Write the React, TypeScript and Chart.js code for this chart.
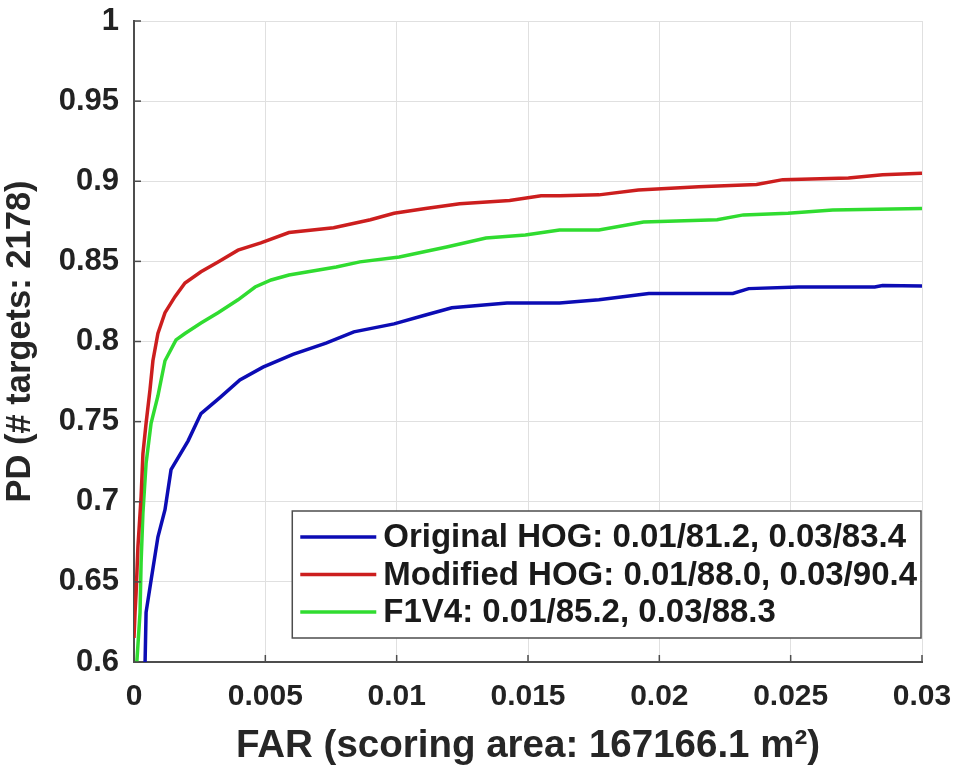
import React, { useEffect, useRef } from "react";
import { Chart, registerables } from "chart.js";

Chart.register(...registerables);

// ---- Data ----
const xTickValues = [0, 0.005, 0.01, 0.015, 0.02, 0.025, 0.03];
const yTickValues = [0.6, 0.65, 0.7, 0.75, 0.8, 0.85, 0.9, 0.95, 1];

const xAxisTitle = "FAR (scoring area: 167166.1 m\u00B2)";
const yAxisTitle = "PD (# targets: 2178)";

const seriesLabels = [
  "Original HOG: 0.01/81.2, 0.03/83.4",
  "Modified HOG: 0.01/88.0, 0.03/90.4",
  "F1V4: 0.01/85.2, 0.03/88.3",
];
const seriesColors = ["#0c0cb4", "#cc1e1e", "#30dc30"];

const originalFar = [
  0.00042, 0.00046, 0.00065, 0.00091, 0.00118, 0.00141, 0.00206, 0.00255, 0.00327,
  0.00403, 0.00491, 0.00605, 0.00731, 0.00837, 0.0099, 0.0111, 0.0121, 0.0142,
  0.0162, 0.0177, 0.0196, 0.0228, 0.0234, 0.0253, 0.0282, 0.0285, 0.03,
];
const originalPd = [
  0.598, 0.631, 0.651, 0.678, 0.695, 0.72, 0.738, 0.755, 0.765,
  0.776, 0.784, 0.792, 0.799, 0.806, 0.811, 0.8165, 0.821, 0.824,
  0.824, 0.826, 0.83, 0.83, 0.833, 0.834, 0.834, 0.835, 0.8347,
];

const modifiedFar = [
  0, 0.00004, 0.00008, 0.00015, 0.00027, 0.00034, 0.00046, 0.00061, 0.00072,
  0.00091, 0.00118, 0.00156, 0.00194, 0.00255, 0.0032, 0.00396, 0.00483, 0.0059,
  0.0076, 0.009, 0.0099, 0.0111, 0.0124, 0.0143, 0.0155, 0.0162, 0.0177,
  0.0192, 0.0215, 0.0237, 0.0247, 0.0272, 0.0285, 0.03,
];
const modifiedPd = [
  0.615, 0.631, 0.643, 0.672, 0.703, 0.73, 0.749, 0.77, 0.788,
  0.805, 0.818, 0.828, 0.8365, 0.8435, 0.8496, 0.857, 0.8615, 0.868,
  0.871, 0.876, 0.88, 0.883, 0.886, 0.888, 0.891, 0.891, 0.8915,
  0.8945, 0.8965, 0.898, 0.901, 0.902, 0.904, 0.905,
];

const f1v4Far = [
  0.0001, 0.00023, 0.00027, 0.00034, 0.00046, 0.00065, 0.00091, 0.00118, 0.0016,
  0.00194, 0.00255, 0.0032, 0.00396, 0.00461, 0.00522, 0.0059, 0.0077, 0.0086,
  0.0101, 0.0119, 0.0134, 0.0149, 0.0162, 0.0177, 0.0194, 0.0222, 0.0232,
  0.0249, 0.0266, 0.03,
];
const f1v4Pd = [
  0.598, 0.631, 0.662, 0.693, 0.724, 0.749, 0.766, 0.788, 0.801,
  0.805, 0.8115, 0.818, 0.826, 0.834, 0.8384, 0.8415, 0.8465, 0.8497,
  0.8527, 0.859, 0.8646, 0.8665, 0.8696, 0.8696, 0.8746, 0.876, 0.879,
  0.88, 0.882, 0.883,
];

const FONT = "'Liberation Sans', Arial, Helvetica, sans-serif";

function toPoints(xs: number[], ys: number[]) {
  return xs.map((x, i) => ({ x, y: ys[i] }));
}

const inwardTicks = {
  id: "inwardTicks",
  afterDatasetsDraw(chart: any) {
    const { ctx, chartArea, scales } = chart;
    const xs = scales.x;
    const ys = scales.y;
    ctx.save();
    ctx.strokeStyle = "#4d4d4d";
    ctx.lineWidth = 1.5;
    yTickValues.forEach((v) => {
      const py = ys.getPixelForValue(v);
      ctx.beginPath();
      ctx.moveTo(chartArea.left, py);
      ctx.lineTo(chartArea.left + 7, py);
      ctx.stroke();
    });
    xTickValues.forEach((v) => {
      const px = xs.getPixelForValue(v);
      ctx.beginPath();
      ctx.moveTo(px, chartArea.bottom);
      ctx.lineTo(px, chartArea.bottom - 7);
      ctx.stroke();
    });
    ctx.restore();
  },
};

const insideLegend = {
  id: "insideLegend",
  afterDraw(chart: any) {
    const { ctx, chartArea } = chart;
    ctx.save();
    ctx.font = `bold 33px ${FONT}`;
    const maxW = Math.max(...seriesLabels.map((t) => ctx.measureText(t).width));
    const padL = 8;
    const lineLen = 76;
    const gap = 7;
    const padR = 4;
    const rowH = 37.5;
    const padV = 7.25;
    const boxW = padL + lineLen + gap + maxW + padR;
    const boxH = padV * 2 + rowH * seriesLabels.length;
    const right = chartArea.right - 1;
    const bottom = chartArea.bottom - 24;
    const left = right - boxW;
    const top = bottom - boxH;
    ctx.fillStyle = "#ffffff";
    ctx.fillRect(left, top, boxW, boxH);
    ctx.strokeStyle = "#4d4d4d";
    ctx.lineWidth = 1.5;
    ctx.strokeRect(left, top, boxW, boxH);
    seriesLabels.forEach((label, i) => {
      const cy = top + padV + rowH * (i + 0.5);
      ctx.strokeStyle = seriesColors[i];
      ctx.lineWidth = 3.5;
      ctx.beginPath();
      ctx.moveTo(left + padL, cy);
      ctx.lineTo(left + padL + lineLen, cy);
      ctx.stroke();
      ctx.fillStyle = "#1a1a1a";
      ctx.textAlign = "left";
      ctx.textBaseline = "middle";
      ctx.fillText(label, left + padL + lineLen + gap, cy + 1);
    });
    ctx.restore();
  },
};

export default function App() {
  const canvasRef = useRef<HTMLCanvasElement | null>(null);

  useEffect(() => {
    if (!canvasRef.current) return;
    const chart = new Chart(canvasRef.current, {
      type: "line",
      data: {
        datasets: [
          { label: seriesLabels[0], data: toPoints(originalFar, originalPd) },
          { label: seriesLabels[1], data: toPoints(modifiedFar, modifiedPd) },
          { label: seriesLabels[2], data: toPoints(f1v4Far, f1v4Pd) },
        ].map((d, i) => ({
          ...d,
          borderColor: seriesColors[i],
          backgroundColor: seriesColors[i],
          borderWidth: 3.5,
          pointRadius: 0,
          tension: 0,
          fill: false,
        })),
      },
      options: {
        animation: false,
        responsive: true,
        maintainAspectRatio: false,
        layout: { padding: { left: 0, top: 21, right: 34, bottom: 0 } },
        plugins: {
          legend: { display: false },
          tooltip: { enabled: false },
        },
        scales: {
          x: {
            type: "linear",
            min: 0,
            max: 0.03,
            afterBuildTicks: (s: any) => {
              s.ticks = xTickValues.map((v) => ({ value: v }));
            },
            afterFit: (s: any) => {
              s.height = 107;
              s.paddingLeft = 0;
              s.paddingRight = 0;
            },
            ticks: {
              callback: (v: any) => String(v),
              font: { family: FONT, size: 30, weight: "bold" },
              color: "#222222",
              padding: 17,
              maxRotation: 0,
              autoSkip: false,
            },
            grid: { color: "#e0e0e0", lineWidth: 1, drawTicks: false },
            border: { color: "#4d4d4d", width: 2 },
            title: {
              display: true,
              text: xAxisTitle,
              font: { family: FONT, size: 38.5, weight: "bold" },
              color: "#262626",
              padding: { top: 0, bottom: 0 },
            },
          },
          y: {
            type: "linear",
            min: 0.6,
            max: 1,
            afterBuildTicks: (s: any) => {
              s.ticks = yTickValues.map((v) => ({ value: v }));
            },
            afterFit: (s: any) => {
              s.width = 134;
              s.paddingTop = 0;
              s.paddingBottom = 0;
            },
            ticks: {
              callback: (v: any) => String(v),
              font: { family: FONT, size: 31, weight: "bold" },
              color: "#222222",
              padding: 15,
              autoSkip: false,
            },
            grid: { color: "#e0e0e0", lineWidth: 1, drawTicks: false },
            border: { color: "#4d4d4d", width: 2 },
            title: {
              display: true,
              text: yAxisTitle,
              font: { family: FONT, size: 34.5, weight: "bold" },
              color: "#262626",
              padding: { top: 0, bottom: 0 },
            },
          },
        },
      },
      plugins: [inwardTicks, insideLegend],
    });
    return () => chart.destroy();
  }, []);

  return (
    <div style={{ position: "fixed", left: 0, top: 0, width: 956, height: 769, background: "#ffffff" }}>
      <canvas ref={canvasRef} />
    </div>
  );
}
